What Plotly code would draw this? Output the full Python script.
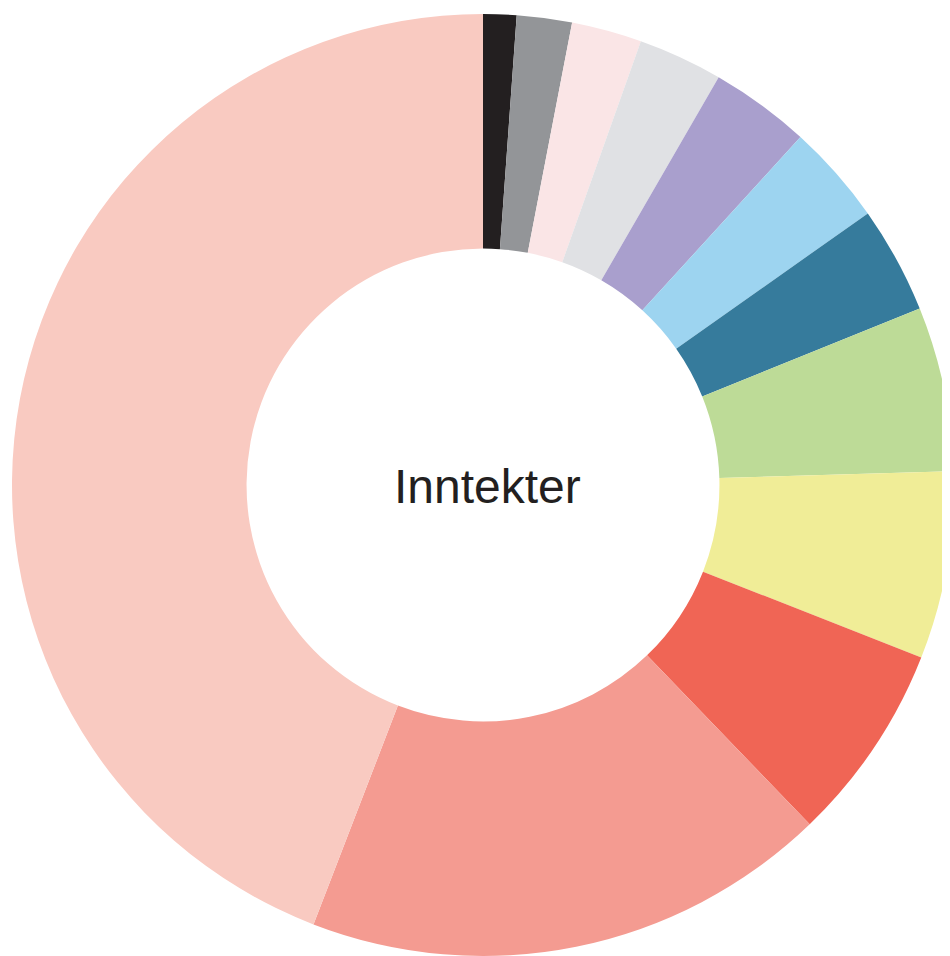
import plotly.graph_objects as go

# Data (share of revenue, percent), clockwise from 12 o'clock
categories = ["Kategori 1", "Kategori 2", "Kategori 3", "Kategori 4", "Kategori 5",
              "Kategori 6", "Kategori 7", "Kategori 8", "Kategori 9", "Kategori 10",
              "Kategori 11", "Kategori 12"]
values = [1.14, 1.89, 2.41, 2.90, 3.43, 3.45, 3.67, 5.64, 6.44, 6.83, 18.06, 44.14]
colors = ["#231f20", "#939598", "#fae5e6", "#e0e1e4", "#a99fcd", "#9dd4f0",
          "#367b9c", "#bddb97", "#f0ed97", "#f06555", "#f49b91", "#f9cac1"]
center_label = "Inntekter"

W, H = 950, 956
# page has an 8px body margin, so positions are in figure pixels
cx, cy, R = 475, 477, 471

fig = go.Figure(go.Pie(
    labels=categories,
    values=values,
    sort=False,
    direction="clockwise",
    rotation=0,
    hole=0.502,
    marker=dict(colors=colors, line=dict(width=0)),
    textinfo="none",
    showlegend=False,
    domain=dict(x=[(cx - R) / W, (cx + R) / W],
                y=[(H - cy - R) / H, (H - cy + R) / H]),
))

fig.add_annotation(
    text=center_label, x=479.5 / W, y=(H - 478) / H,
    xref="paper", yref="paper", showarrow=False,
    font=dict(family="Liberation Sans, Arial, sans-serif", size=48, color="#231f20"),
)

fig.update_layout(
    width=W, height=H,
    margin=dict(l=0, r=0, t=0, b=0),
    paper_bgcolor="white",
    plot_bgcolor="white",
)

fig.write_html(
    "out.html",
    post_script="document.documentElement.style.overflow='hidden';"
                "document.body.style.overflow='hidden';",
)
